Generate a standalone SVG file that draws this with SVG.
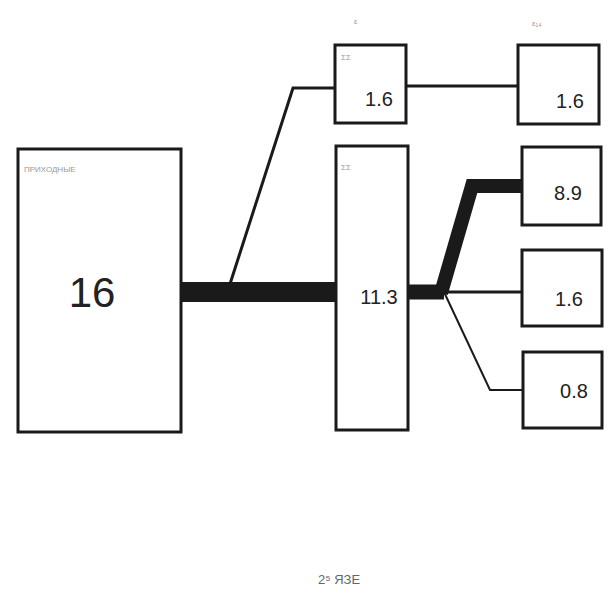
<svg xmlns="http://www.w3.org/2000/svg" width="614" height="614" viewBox="0 0 614 614">
<style>
.box{fill:#fff;stroke:#1a1a1a;stroke-width:3}
.num{font-family:"Liberation Sans",Arial,sans-serif;fill:#222;text-anchor:middle}
.tiny{font-family:"Liberation Sans",Arial,sans-serif;fill:#999;font-size:8px}
.ln{fill:none;stroke:#1a1a1a;stroke-linejoin:miter}
</style>
<rect width="614" height="614" fill="#fff"/>
<g id="connectors">
<path class="ln" d="M182 292 H336" stroke-width="20"/>
<path class="ln" d="M230 284 L293 88 H335" stroke-width="3"/>
<path class="ln" d="M406 86 H518" stroke-width="3"/>
<path class="ln" d="M408 292 H444" stroke-width="15"/>
<path class="ln" d="M441 293 L472 186 H522" stroke-width="14"/>
<path class="ln" d="M444 292 H522" stroke-width="3"/>
<path class="ln" d="M444 292 L490 390 H523" stroke-width="2"/>
</g>
<g id="n_source">
<rect class="box" x="18" y="149" width="163" height="283"/>
<text class="tiny" x="24" y="172">ПРИХОДНЫЕ</text>
<text class="num" x="92" y="307" font-size="42">16</text>
</g>
<g id="n_top">
<text class="tiny" x="354" y="24">ε</text>
<rect class="box" x="335" y="45" width="71" height="78"/>
<text class="tiny" x="341" y="60">ΣΣ</text>
<text class="num" x="379" y="106" font-size="20">1.6</text>
</g>
<g id="n_mid">
<rect class="box" x="336" y="146" width="72" height="284"/>
<text class="tiny" x="341" y="170">ΣΣ</text>
<text class="num" x="379" y="304" font-size="20">11.3</text>
</g>
<g id="n_r1">
<text class="tiny" x="532" y="26">ε₁₄</text>
<rect class="box" x="518" y="45" width="81" height="79"/>
<text class="num" x="570" y="108" font-size="20">1.6</text>
</g>
<g id="n_r2">
<rect class="box" x="522" y="147" width="79" height="78"/>
<text class="num" x="568" y="200" font-size="20">8.9</text>
</g>
<g id="n_r3">
<rect class="box" x="522" y="250" width="80" height="76"/>
<text class="num" x="569" y="306" font-size="20">1.6</text>
</g>
<g id="n_r4">
<rect class="box" x="523" y="352" width="79" height="76"/>
<text class="num" x="574" y="398" font-size="20">0.8</text>
</g>
<text x="339" y="584" font-family="Liberation Sans,Arial,sans-serif" font-size="13" fill="#666" text-anchor="middle">2⁵  ЯЗЕ</text>
</svg>
